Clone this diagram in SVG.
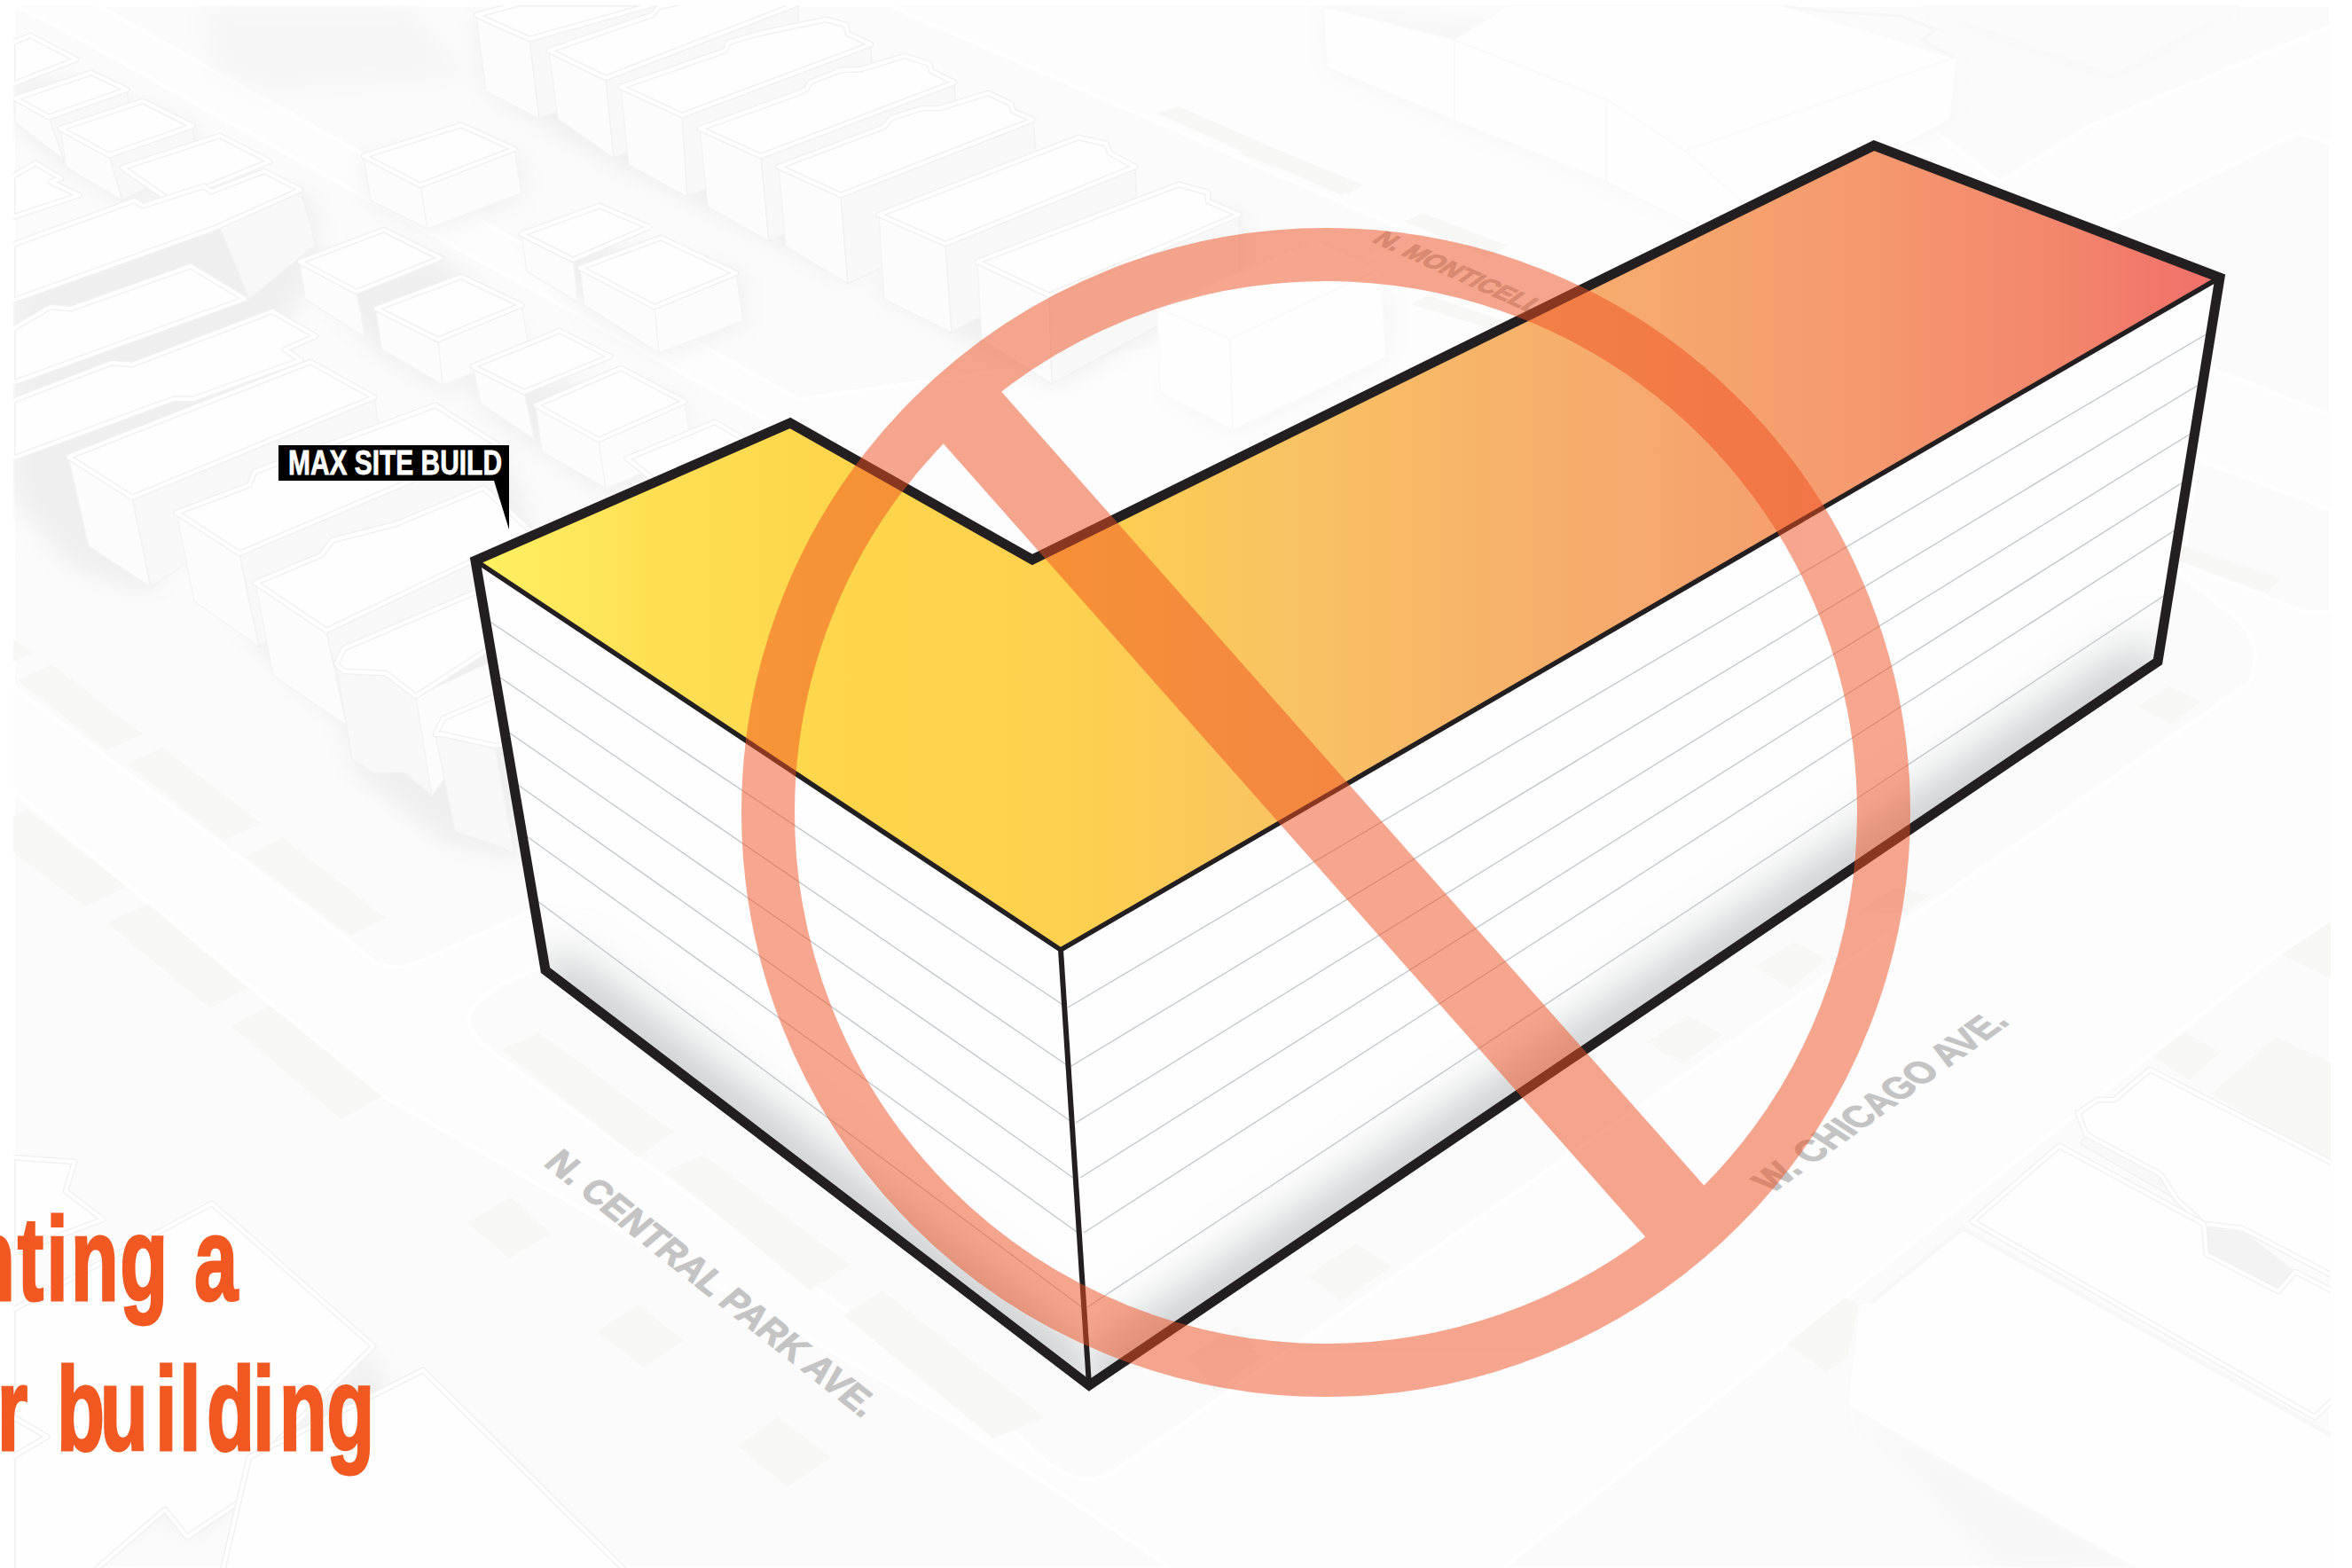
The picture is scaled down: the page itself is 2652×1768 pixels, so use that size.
<svg xmlns="http://www.w3.org/2000/svg" width="2652" height="1768" viewBox="0 0 2652 1768">
<style>
.blk{fill:#FBFBFB;stroke:#FFF;stroke-width:4}
.slot{fill:#F7F7F6}
.sh{fill:#EFEFEF}
.w{fill:#FCFCFC;stroke:#F4F4F4;stroke-width:1.5;stroke-linejoin:round}
.wd{fill:#F8F8F8;stroke:#F2F2F2;stroke-width:1.5;stroke-linejoin:round}
.ro{fill:#FEFEFE;stroke:#F1F1F1;stroke-width:7;stroke-linejoin:round}
.ri{fill:none;stroke:#FFF;stroke-width:4;stroke-linejoin:round}
.fa{fill:#FEFEFE;stroke:#FAFAFA;stroke-width:2}
.st{font-family:"Liberation Sans",Arial,sans-serif;font-weight:700;fill:#C4C4C4;stroke:#C4C4C4;stroke-width:1.3}
.fl{fill:none;stroke:#C2C6C8;stroke-width:1.3}
.ed{fill:none;stroke:#231F20;stroke-linejoin:miter;stroke-miterlimit:10}
.hd{font-family:"Liberation Sans",Arial,sans-serif;font-weight:700;font-size:134px;fill:#F25822;stroke:#F25822;stroke-width:3}
</style>
<defs>
<clipPath id="frame"><rect x="15" y="6" width="2613" height="1762"/></clipPath>
<clipPath id="wl"><polygon points="536,632 1196,1071 1228,1562 615,1094"/></clipPath>
<clipPath id="wr"><polygon points="1196,1071 2500,314 2433,746 1228,1562"/></clipPath>
<filter id="soft" filterUnits="userSpaceOnUse" x="0" y="0" width="2652" height="1768"><feGaussianBlur stdDeviation="14"/></filter>
<filter id="blur" filterUnits="userSpaceOnUse" x="0" y="0" width="2652" height="1768"><feGaussianBlur stdDeviation="30"/></filter>
<linearGradient id="roof" gradientUnits="userSpaceOnUse" x1="540" y1="0" x2="2497" y2="0">
<stop offset="0" stop-color="#FFF162"/><stop offset=".09" stop-color="#FFE156"/><stop offset=".2" stop-color="#FDD64C"/><stop offset=".34" stop-color="#FED14E"/><stop offset=".47" stop-color="#F9C263"/><stop offset=".65" stop-color="#F6AB6D"/><stop offset=".8" stop-color="#F5996E"/><stop offset=".91" stop-color="#F3866C"/><stop offset="1" stop-color="#F0706A"/>
</linearGradient>
</defs>
<rect width="2652" height="1768" fill="#FFF"/>
<g id="context" clip-path="url(#frame)">
<rect x="15" y="6" width="2613" height="1762" fill="#FDFDFD"/>
<g id="blocks">
<path class="blk" d="M15 6L63 29L861 471L1000 560L594 1030L469 1086Q445 1094 424 1086L393 1060L15 774Z"/>
<path class="blk" d="M110 6L900 450L1400 380L1590 262L1002 6Z"/>
<path class="blk" d="M15 892L429 1234L1071 1600L1320 1768L15 1768Z"/>
<path class="blk" d="M611 1091Q540 1115 528 1148Q530 1170 560 1190L1150 1620Q1213 1690 1259 1657L2536 770Q2560 720 2500 680L2400 600L1500 900Z"/>
<path class="blk" d="M1695 1768L2566 1078L2628 1039L2628 1768Z"/>
<path class="blk" d="M2255 205L2354 143L2440 107L2628 30L2628 6L2000 6Z"/>
<path class="blk" d="M2378 254L2590 150L2628 161L2628 468L2495 416Z"/>
<path class="blk" d="M2461 636L2599 690L2628 690L2628 575L2478 518Z"/>
</g>
<g id="slots">
<polygon class="slot" points="15,721 38,736 15,746"/>
<polygon class="slot" points="20,767 58,749 161,828 120,846"/>
<polygon class="slot" points="143,861 183,843 295,928 252,948"/>
<polygon class="slot" points="277,966 318,944 435,1035 395,1055"/>
<polygon class="slot" points="15,920 31,913 143,1000 96,1022 15,961"/>
<polygon class="slot" points="120,1040 167,1019 279,1114 237,1137"/>
<polygon class="slot" points="261,1157 304,1134 431,1236 384,1262"/>
<polygon class="slot" points="566,1184 607,1164 760,1276 719,1305"/>
<polygon class="slot" points="750,1321 793,1302 959,1426 913,1455"/>
<polygon class="slot" points="951,1483 995,1455 1178,1598 1120,1622"/>
<polygon class="slot" points="527,1378 576,1350 621,1391 574,1419"/>
<polygon class="slot" points="673,1501 720,1471 771,1512 725,1542"/>
<polygon class="slot" points="832,1630 877,1598 937,1643 888,1677"/>
<polygon class="slot" points="1474,1438 1529,1402 1569,1428 1513,1467"/>
<polygon class="slot" points="1340,1530 1395,1495 1420,1530 1370,1570"/>
<polygon class="slot" points="1857,1175 1903,1145 1942,1167 1897,1200"/>
<polygon class="slot" points="1978,1090 2023,1062 2060,1082 2019,1115"/>
<polygon class="slot" points="2093,1029 2137,1000 2175,1010 2148,1030"/>
<polygon class="slot" points="2428,1191 2463,1164 2504,1186 2468,1218"/>
<polygon class="slot" points="2015,1515 2080,1463 2096,1470 2083,1532 2058,1547"/>
<polygon class="slot" points="2493,1233 2566,1169 2628,1198 2628,1314"/>
<polygon class="slot" points="2572,1076 2628,1039 2628,1103"/>
<polygon class="slot" points="2457,614 2572,652 2557,669 2457,633"/>
<polygon class="slot" points="2410,797 2445,774 2482,790 2449,816"/>
<polygon class="slot" points="1400,152 1536,208 1520,219 1400,174"/>
<polygon class="slot" points="1303,127 1329,120 1535,210 1512,220"/>
<polygon class="slot" points="1591,343 1610,333 1712,367 1687,373"/>
<polygon class="slot" points="1584,250 1604,240 1700,277 1680,290"/>
</g>
<g id="shadows" filter="url(#soft)">
<polygon class="sh" points="14,320 240,240 350,215 360,290 170,670 80,640 14,560"/>
<polygon class="sh" points="200,590 570,510 600,600 400,830 300,740"/>
<polygon class="sh" points="380,760 570,680 590,970 500,950 400,870"/>
<polygon class="sh" points="335,300 500,290 600,390 500,440 430,400"/>
<polygon class="sh" points="585,260 835,305 840,365 745,400 660,350"/>
<polygon class="sh" points="530,415 770,450 780,530 680,555 540,460"/>
<polygon class="sh" points="410,175 585,170 590,222 482,260 418,228"/>
<polygon class="sh" points="535,20 1000,90 960,320 800,235 700,190 550,105"/>
<polygon class="sh" points="990,240 1400,240 1400,320 1190,435 1075,375 995,335"/>
<polygon class="sh" points="1308,440 1390,488 1565,405 1570,330 1390,380" style="fill:#F5F5F5"/>
<polygon class="sh" points="230,6 462,6 530,90 296,105 240,75" style="fill:#F6F6F6"/>
<polygon class="sh" points="14,90 90,95 220,145 230,210 140,230 70,185 17,140"/>
<polygon class="sh" points="1492,7 2205,70 2200,135 1950,260 1811,205 1640,138 1496,78" style="fill:#F6F6F6"/>
<polygon class="sh" points="2167,7 2526,7 2382,83" style="fill:#F6F6F6"/>
<polygon class="sh" points="2083,1585 2370,1738 2450,1768 2250,1768" style="fill:#F7F7F7"/>
<polygon class="sh" points="281,1643 300,1670 210,1735 186,1702 100,1755 95,1730"/>
<polygon class="sh" points="421,1518 440,1600 300,1650"/>
</g>
<g id="buildings">
<path class="ro" d="M14 48L34 40L86 67L14 95Z"/><path class="ri" d="M14 48L34 40L86 67L14 95Z"/>
<path class="w" d="M17 111L55 132L72 180L17 138Z"/><path class="wd" d="M55 132L143 101L147 140L72 180Z"/>
<path class="ro" d="M17 111L103 82L143 101L55 132Z"/><path class="ri" d="M17 111L103 82L143 101L55 132Z"/>
<path class="w" d="M68 145L123 175L138 226L75 189Z"/><path class="wd" d="M123 175L217 142L222 185L138 226Z"/>
<path class="ro" d="M68 145L161 114L217 142L123 175Z"/><path class="ri" d="M68 145L161 114L217 142L123 175Z"/>
<path class="ro" d="M14 199L40 184L69 201L57 205L89 220L14 245Z"/><path class="ri" d="M14 199L40 184L69 201L57 205L89 220L14 245Z"/>
<path class="ro" d="M138 189L248 153L304 182L235 210L190 225Z"/><path class="ri" d="M138 189L248 153L304 182L235 210L190 225Z"/>
<path class="wd" d="M247 255L339 214L356 276L281 337Z"/>
<path class="ro" d="M14 276L152 226L161 232L230 210L238 216L298 193L339 214L247 255L240 258L14 339Z"/><path class="ri" d="M14 276L152 226L161 232L230 210L238 216L298 193L339 214L247 255L240 258L14 339Z"/>
<path class="ro" d="M14 371L57 346L80 348L215 300L276 337L14 432Z"/><path class="ri" d="M14 371L57 346L80 348L215 300L276 337L14 432Z"/>
<path class="ro" d="M14 452L126 409L149 411L307 351L356 379L321 394L339 406L218 450L195 450L14 517Z"/><path class="ri" d="M14 452L126 409L149 411L307 351L356 379L321 394L339 406L218 450L195 450L14 517Z"/>
<path class="w" d="M77 515L149 561L170 662L100 616Z"/><path class="wd" d="M149 561L422 448L428 490L170 662Z"/>
<path class="ro" d="M77 515L350 408L422 448L149 561Z"/><path class="ri" d="M77 515L350 408L422 448L149 561Z"/>
<path class="w" d="M199 578L270 624L292 729L219 678Z"/><path class="wd" d="M270 624L560 501L560 560L292 729Z"/>
<path class="ro" d="M199 578L281 547L287 532L491 457L560 501L270 624Z"/><path class="ri" d="M199 578L281 547L287 532L491 457L560 501L270 624Z"/>
<path class="w" d="M288 657L368 711L391 818L308 762Z"/><path class="wd" d="M368 711L554 626L560 700L391 818Z"/>
<path class="ro" d="M288 657L362 626L375 609L446 591L545 550L600 600L368 711Z"/><path class="ri" d="M288 657L362 626L375 609L446 591L545 550L600 600L368 711Z"/>
<path class="wd" d="M379 749L388 757L435 759L469 785L487 897L455 871L420 871L397 856Z"/><path class="w" d="M469 785L554 746L560 800L487 897Z"/>
<path class="ro" d="M379 749L388 731L554 660L600 700L469 785L435 759L388 757Z"/><path class="ri" d="M379 749L388 731L554 660L600 700L469 785L435 759L388 757Z"/>
<path class="wd" d="M491 828L500 828L558 841L580 963L558 953L513 938Z"/>
<path class="ro" d="M491 828L500 810L558 785L620 830L558 841L500 828Z"/><path class="ri" d="M491 828L500 810L558 785L620 830L558 841L500 828Z"/>
<path class="w" d="M410 176L474 209L482 258L418 226Z"/><path class="w" d="M474 209L580 168L588 218L482 258Z"/>
<path class="ro" d="M410 176L520 141L580 168L474 209Z"/><path class="ri" d="M410 176L520 141L580 168L474 209Z"/>
<path class="w" d="M588 264L646 293L652 341L594 306Z"/>
<path class="ro" d="M588 264L676 232L732 256L646 293Z"/><path class="ri" d="M588 264L676 232L732 256L646 293Z"/>
<path class="w" d="M654 302L738 346L743 398L659 344Z"/><path class="w" d="M738 346L830 308L838 362L743 398Z"/>
<path class="ro" d="M654 302L745 268L830 308L738 346Z"/><path class="ri" d="M654 302L745 268L830 308L738 346Z"/>
<path class="w" d="M338 295L402 329L412 381L344 337Z"/>
<path class="ro" d="M338 295L433 259L497 291L402 329Z"/><path class="ri" d="M338 295L433 259L497 291L402 329Z"/>
<path class="w" d="M424 348L494 383L499 434L430 394Z"/><path class="w" d="M494 383L588 344L597 396L499 434Z"/>
<path class="ro" d="M424 348L520 312L588 344L494 383Z"/><path class="ri" d="M424 348L520 312L588 344L494 383Z"/>
<path class="w" d="M533 413L591 442L603 496L542 455Z"/>
<path class="ro" d="M533 413L631 373L688 402L591 442Z"/><path class="ri" d="M533 413L631 373L688 402L591 442Z"/>
<path class="w" d="M604 457L675 496L683 551L611 509Z"/><path class="w" d="M675 496L772 453L780 510L683 551Z"/>
<path class="ro" d="M604 457L700 415L772 453L675 496Z"/><path class="ri" d="M604 457L700 415L772 453L675 496Z"/>
<path class="ro" d="M707 517L806 476L900 530L800 590Z"/><path class="ri" d="M707 517L806 476L900 530L800 590Z"/>
<path class="w" d="M537 17L597 44L608 134L548 103Z"/><path class="wd" d="M597 44L740 6L760 6L760 75L608 134Z"/>
<path class="ro" d="M537 17L585 4L740 4L597 44Z"/><path class="ri" d="M537 17L585 4L740 4L597 44Z"/>
<path class="w" d="M619 57L683 88L692 178L629 134Z"/><path class="wd" d="M683 88L900 6L900 90L692 178Z"/>
<path class="ro" d="M619 57L735 17L743 8L770 2L905 2L683 88Z"/><path class="ri" d="M619 57L735 17L743 8L770 2L905 2L683 88Z"/>
<path class="w" d="M700 98L769 130L775 222L709 186Z"/><path class="wd" d="M769 130L982 50L985 130L775 222Z"/>
<path class="ro" d="M700 98L818 57L821 48L855 38L931 22L954 28L956 38L982 50L769 130Z"/><path class="ri" d="M700 98L818 57L821 48L855 38L931 22L954 28L956 38L982 50L769 130Z"/>
<path class="w" d="M789 145L858 176L867 272L798 233Z"/><path class="wd" d="M858 176L1076 93L1082 170L867 272Z"/>
<path class="ro" d="M789 145L900 105L910 100L913 93L948 79L971 78L1020 63L1048 72L1050 80L1076 93L858 176Z"/><path class="ri" d="M789 145L900 105L910 100L913 93L948 79L971 78L1020 63L1048 72L1050 80L1076 93L858 176Z"/>
<path class="w" d="M878 188L948 220L956 320L886 278Z"/><path class="wd" d="M948 220L1165 135L1172 220L956 320Z"/>
<path class="ro" d="M878 188L997 143L1005 133L1040 122L1060 122L1114 105L1140 117L1142 125L1165 135L948 220Z"/><path class="ri" d="M878 188L997 143L1005 133L1040 122L1060 122L1114 105L1140 117L1142 125L1165 135L948 220Z"/>
<path class="w" d="M991 242L1066 275L1073 375L997 337Z"/><path class="wd" d="M1066 275L1280 188L1283 260L1073 375Z"/>
<path class="ro" d="M991 242L1216 155L1247 162L1252 173L1280 188L1066 275Z"/><path class="ri" d="M991 242L1216 155L1247 162L1252 173L1280 188L1066 275Z"/>
<path class="w" d="M1102 295L1183 333L1186 433L1107 383Z"/><path class="wd" d="M1183 333L1397 242L1397 317L1186 433Z"/>
<path class="ro" d="M1102 295L1329 208L1362 217L1362 227L1397 242L1183 333Z"/><path class="ri" d="M1102 295L1329 208L1362 217L1362 227L1397 242L1183 333Z"/>
<path class="fa" d="M1305 347L1387 382L1390 485L1308 443Z"/><path class="fa" d="M1387 382L1556 303L1563 403L1390 485Z"/>
<path class="fa" d="M1305 347L1482 270L1556 303L1387 382Z"/>
<path class="fa" d="M1492 7L1640 45L1640 136L1496 76Z"/>
<path class="fa" d="M1640 45L1811 112L1811 205L1640 136Z"/>
<path class="fa" d="M1811 112L2100 240L2000 300L1811 205Z"/>
<path class="fa" d="M1640 45L1700 6L2011 6L2203 65L1900 170L1811 112Z"/>
<path class="fa" d="M2203 65L2207 65L2199 134L1990 250L1900 170Z"/>
<path d="M2011 7L2063 13L2143 18L2183 33L2167 45L2203 65" style="fill:none;stroke:#F6F6F6;stroke-width:3"/>
<path class="fa" d="M2167 7L2526 7L2382 83Z" style="fill:#FBFBFB"/>
<path class="ro" d="M84 1310L74 1343L116 1375L14 1413L14 1305Z"/><path class="ri" d="M84 1310L74 1343L116 1375L14 1413L14 1305Z"/>
<path class="ro" d="M14 1477L239 1357L421 1518L295 1643L309 1667L211 1733L186 1702L102 1775L14 1775Z"/><path class="ri" d="M14 1477L239 1357L421 1518L295 1643L309 1667L211 1733L186 1702L102 1775L14 1775Z"/>
<path class="ro" d="M14 1597L53 1620L14 1643Z"/><path class="ri" d="M14 1597L53 1620L14 1643Z"/>
<path class="ro" d="M281 1643L477 1545L709 1775L250 1775Z"/><path class="ri" d="M281 1643L477 1545L709 1775L250 1775Z"/>
<path class="wd" d="M2352 1279L2436 1324L2455 1353L2346 1290Z"/>
<path class="ro" d="M2343 1255L2365 1240L2384 1240L2424 1206L2635 1314L2635 1441L2528 1385L2485 1380L2455 1353L2436 1324L2352 1279Z"/><path class="ri" d="M2343 1255L2365 1240L2384 1240L2424 1206L2635 1314L2635 1441L2528 1385L2485 1380L2455 1353L2436 1324L2352 1279Z"/>
<path class="wd" d="M2488 1385L2530 1390L2588 1434L2569 1456L2488 1414Z" style="fill:#F3F3F3"/>
<path class="ro" d="M2224 1377L2322 1292L2485 1380L2488 1414L2569 1456L2588 1434L2635 1458L2635 1574L2610 1598Z"/><path class="ri" d="M2224 1377L2322 1292L2485 1380L2488 1414L2569 1456L2588 1434L2635 1458L2635 1574L2610 1598Z"/>
<path class="fa" d="M2110 1468L2096 1470L2083 1585L2420 1775L2635 1775L2635 1622L2213 1385Z"/>
<path d="M2110 1468L2213 1385L2635 1622" style="fill:none;stroke:#F7F7F7;stroke-width:5"/>
</g>
<g id="streets">
<text class="st" font-size="42" textLength="462" lengthAdjust="spacingAndGlyphs" transform="matrix(.78 .62 -.76 .65 612 1313)">N. CENTRAL PARK AVE.</text>
<text class="st" font-size="44" textLength="332" lengthAdjust="spacingAndGlyphs" transform="matrix(.81 -.58 .83 .55 1998 1346)">W. CHICAGO AVE.</text>
<text class="st" font-size="29" textLength="201" lengthAdjust="spacingAndGlyphs" transform="matrix(.91 .41 -.8 .6 1546 272)">N. MONTICELL</text>
</g>
</g>
<g id="mass">
<polygon points="536,632 1196,1071 1228,1562 615,1094" fill="#FEFEFE"/>
<polygon points="1196,1071 2500,314 2433,746 1228,1562" fill="#FEFEFE"/>
<g clip-path="url(#wl)"><path d="M615 1094L1228 1562" fill="none" stroke="#A9ACAE" stroke-width="38" filter="url(#blur)"/></g>
<g clip-path="url(#wr)"><path d="M1228 1562L2433 746" fill="none" stroke="#A9ACAE" stroke-width="38" filter="url(#blur)"/></g>
<g id="floors">
<path class="fl" d="M554 702L1200 1134M564 764L1203 1201M574 826L1207 1264M584 885L1210 1328M594 943L1214 1389M606 1016L1220 1474"/>
<path class="fl" d="M1204 1136L2489 376M1208 1202L2479 434M1213 1266L2470 489M1218 1328L2461 544M1222 1390L2452 598M1226 1474L2441 671"/>
</g>
<polygon id="roof-plate" points="536,632 891,477 1164,631 2113,164 2503,313 1196,1071" fill="url(#roof)"/>
<path class="ed" stroke-width="5.5" d="M536 632L1196 1071L2503 313"/>
<path class="ed" stroke-width="6" d="M1196 1071L1228 1562"/>
<polygon class="ed" stroke-width="11" points="536,632 891,477 1164,631 2113,164 2503,313 2433,746 1228,1562 615,1094"/>
</g>
<g id="prohibition" opacity=".5">
<circle cx="1495" cy="916" r="629" fill="none" stroke="#EF5020" stroke-width="60"/>
<polygon points="1110,420 1942,1360 1876,1418 1044,478" fill="#EF5020"/>
</g>
<g id="max-site-build">
<polygon points="314,502 574,502 574,597 557,542 314,542"/>
<text x="325" y="535" font-family="'Liberation Sans',Arial,sans-serif" font-weight="700" font-size="38" fill="#FFF" stroke="#FFF" stroke-width=".8" textLength="241" lengthAdjust="spacingAndGlyphs">MAX SITE BUILD</text>
</g>
<g id="heading">
<text class="hd" transform="translate(0 1466) scale(.66 1)" x="-56 30 79 121 205 280 332">nting a</text>
<text class="hd" transform="translate(0 1635) scale(.66 1)" x="-5 50 97 171 265 306 353 432 477 558">r building</text>
</g>
</svg>
